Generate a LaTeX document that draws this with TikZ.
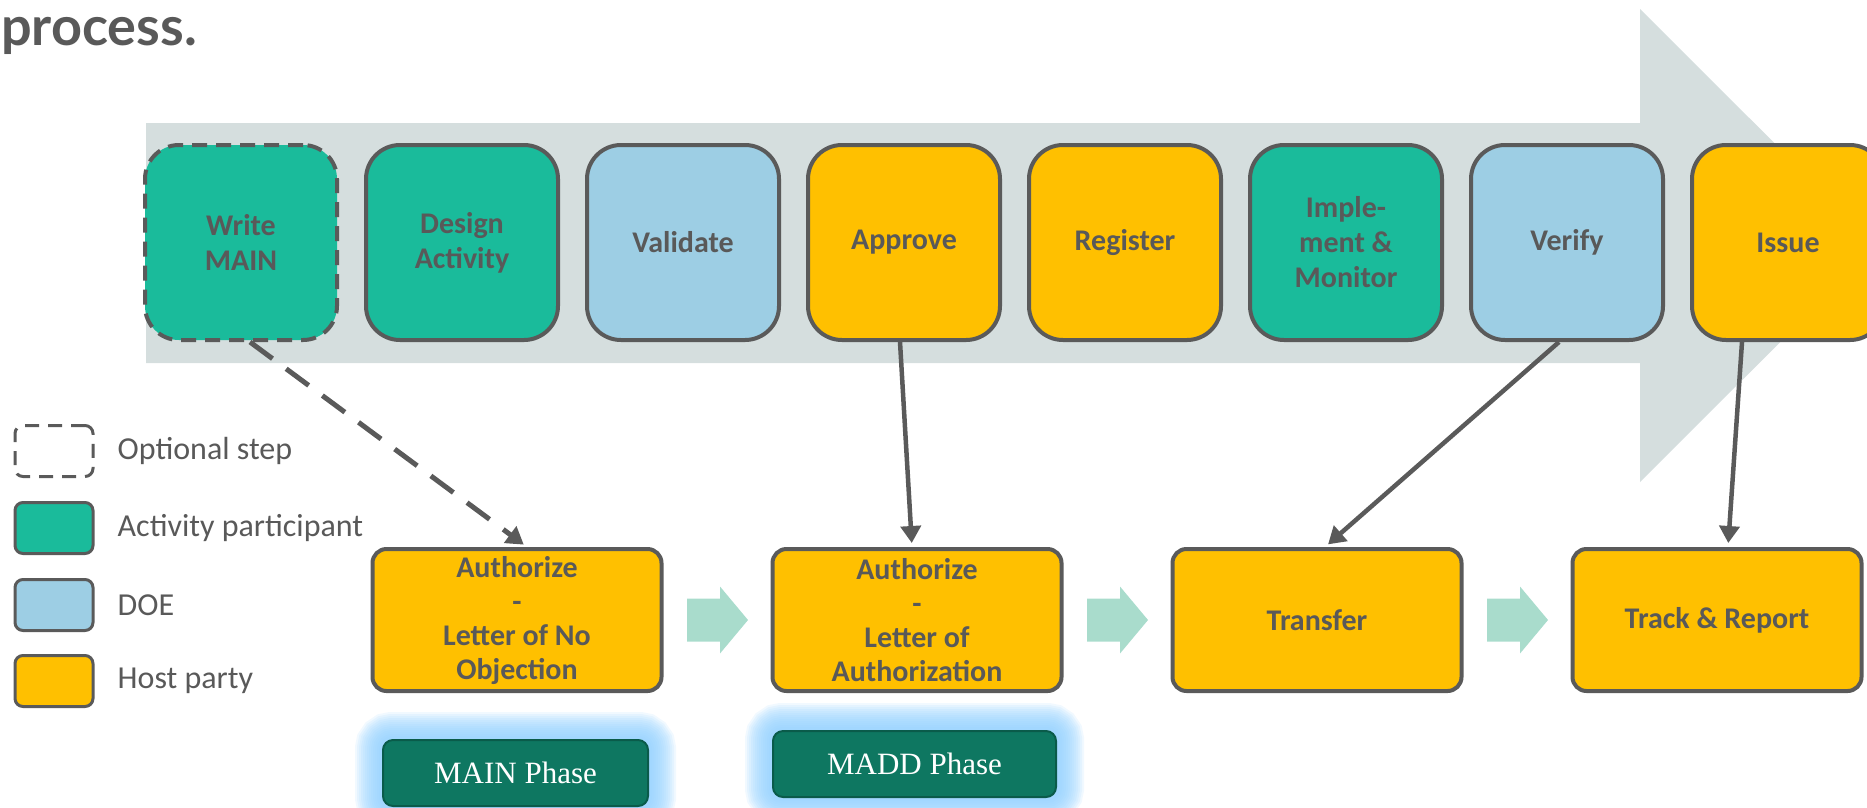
\documentclass[tikz,border=0pt]{standalone}
\usepackage{fontspec}
\setmainfont{Carlito}
\newfontfamily\headfont{Lato}
\newfontfamily\phasefont{Liberation Serif}
\usetikzlibrary{positioning,calc,arrows.meta,backgrounds}
\definecolor{bandgrey}{HTML}{D5DEDE}
\definecolor{edgegrey}{HTML}{5A5A5A}
\definecolor{textgrey}{HTML}{595959}
\definecolor{partteal}{HTML}{1ABB9B}
\definecolor{doeblue}{HTML}{9DCEE4}
\definecolor{hostamber}{HTML}{FFC000}
\definecolor{chevmint}{HTML}{A9DCCC}
\definecolor{phasegreen}{HTML}{0E7761}
\definecolor{phaseedge}{HTML}{0A5B4A}
\definecolor{glowblue}{HTML}{8FCFFF}
\tikzset{
  stepbox/.style={draw=edgegrey,line width=4pt,rounded corners=34pt,minimum width=192pt,minimum height=195pt,
    inner sep=0pt,text=textgrey,align=center,font=\fontsize{30}{35}\selectfont\bfseries},
  optstep/.style={stepbox,dash pattern=on 15pt off 9pt},
  authbox/.style={draw=edgegrey,line width=4pt,rounded corners=14pt,fill=hostamber,minimum width=289pt,minimum height=142pt,
    inner sep=0pt,text=textgrey,align=center,font=\fontsize{30}{34}\selectfont\bfseries},
  phasebox/.style={draw=phaseedge,line width=2pt,rounded corners=10pt,fill=phasegreen,minimum height=66pt,text=white,
    font=\phasefont\fontsize{31}{36}\selectfont},
  glow/.style={draw=glowblue,rounded corners=10pt,draw opacity=.13},
  legbox/.style={draw=edgegrey,line width=3pt,rounded corners=8pt,minimum width=78pt,minimum height=51pt,inner sep=0pt},
  legtext/.style={text=textgrey,font=\fontsize{32}{37}\selectfont,inner sep=0pt,anchor=west},
  link/.style={draw=edgegrey,line width=4.5pt,-{Triangle[width=20pt,length=17pt]},shorten >=4pt},
  dashlink/.style={link,line width=5pt,dash pattern=on 28pt off 17pt}
}
\begin{document}
\begin{tikzpicture}[x=1pt,y=-1pt,line join=round]
  \def\stepx{241}\def\stepdx{221}\def\stepy{242.5}
  \def\authx{517}\def\authdx{400}\def\authy{620}
  \useasboundingbox (0,0) rectangle (1867,807);
  \clip (0,0) rectangle (1867,807);
  % title fragment
  \node[anchor=base west,inner sep=0pt,text=textgrey,font=\headfont\bfseries\fontsize{54}{60}\selectfont] (title) at (1,45) {process.};
  % big grey arrow behind the steps
  \fill[bandgrey] (146,123) -- (1640,123) -- (1640,9) -- (1877,245.5) -- (1640,482) -- (1640,363) -- (146,363) -- cycle;
  % steps
  \node[optstep,fill=partteal] (write) at (\stepx,\stepy) {Write\\MAIN};
  \node[stepbox,fill=partteal] (design) at (\stepx+\stepdx,\stepy) {Design\\Activity};
  \node[stepbox,fill=doeblue] (validate) at (\stepx+2*\stepdx,\stepy) {Validate};
  \node[stepbox,fill=hostamber] (approve) at (\stepx+3*\stepdx,\stepy) {Approve};
  \node[stepbox,fill=hostamber] (register) at (\stepx+4*\stepdx,\stepy) {Register};
  \node[stepbox,fill=partteal] (implement) at (\stepx+5*\stepdx,\stepy) {Imple-\\ment \&\\Monitor};
  \node[stepbox,fill=doeblue] (verify) at (\stepx+6*\stepdx,\stepy) {Verify};
  \node[stepbox,fill=hostamber] (issue) at (\stepx+7*\stepdx,\stepy) {Issue};
  % host party actions
  \node[authbox] (lono) at (\authx,\authy) {Authorize\\-\\Letter of No\\Objection};
  \node[authbox] (loa) at (\authx+\authdx,\authy) {Authorize\\-\\Letter of\\Authorization};
  \node[authbox] (xfer) at (\authx+2*\authdx,\authy) {Transfer};
  \node[authbox] (track) at (\authx+3*\authdx,\authy) {Track \& Report};
  \foreach \a/\b in {lono/loa,loa/xfer,xfer/track}
    \fill[chevmint] ($(\a.east)!.5!(\b.west)$) ++(-30,-21.5) -- ++(33,0) -- ++(0,-12) -- ++(28,33.5) -- ++(-28,33.5) -- ++(0,-12) -- ++(-33,0) -- cycle;
  % phases
  \node[phasebox,minimum width=265pt] (mainph) at (515.5,773) {MAIN Phase};
  \node[phasebox,minimum width=283pt] (maddph) at (914.5,764) {MADD Phase};
  \begin{scope}[on background layer]
    \foreach \w in {54,50,...,6}
      \foreach \p in {mainph,maddph}
        \draw[glow,line width=\w pt] (\p.north west) rectangle (\p.south east);
  \end{scope}
  % links
  \draw[dashlink] ([xshift=9pt]write.south) -- ([xshift=10pt]lono.north);
  \draw[link] ([xshift=-4pt]approve.south) -- ([xshift=-5pt]loa.north);
  \draw[link] ([xshift=-8pt]verify.south) -- ([xshift=8pt]xfer.north);
  \draw[link] ([xshift=-46pt]issue.south) -- ([xshift=11pt]track.north);
  % legend
  \node[legbox,dash pattern=on 14pt off 9pt] (legopt) at (54,451) {};
  \node[legbox,fill=partteal] (legact) at (54,528) {};
  \node[legbox,fill=doeblue] (legdoe) at (54,605) {};
  \node[legbox,fill=hostamber] (leghost) at (54,681) {};
  \node[legtext,right=23pt of legopt] (txtopt) {Optional step};
  \node[legtext,right=23pt of legact] (txtact) {Activity participant};
  \node[legtext,right=23pt of legdoe] (txtdoe) {DOE};
  \node[legtext,right=23pt of leghost] (txthost) {Host party};
\end{tikzpicture}
\end{document}
